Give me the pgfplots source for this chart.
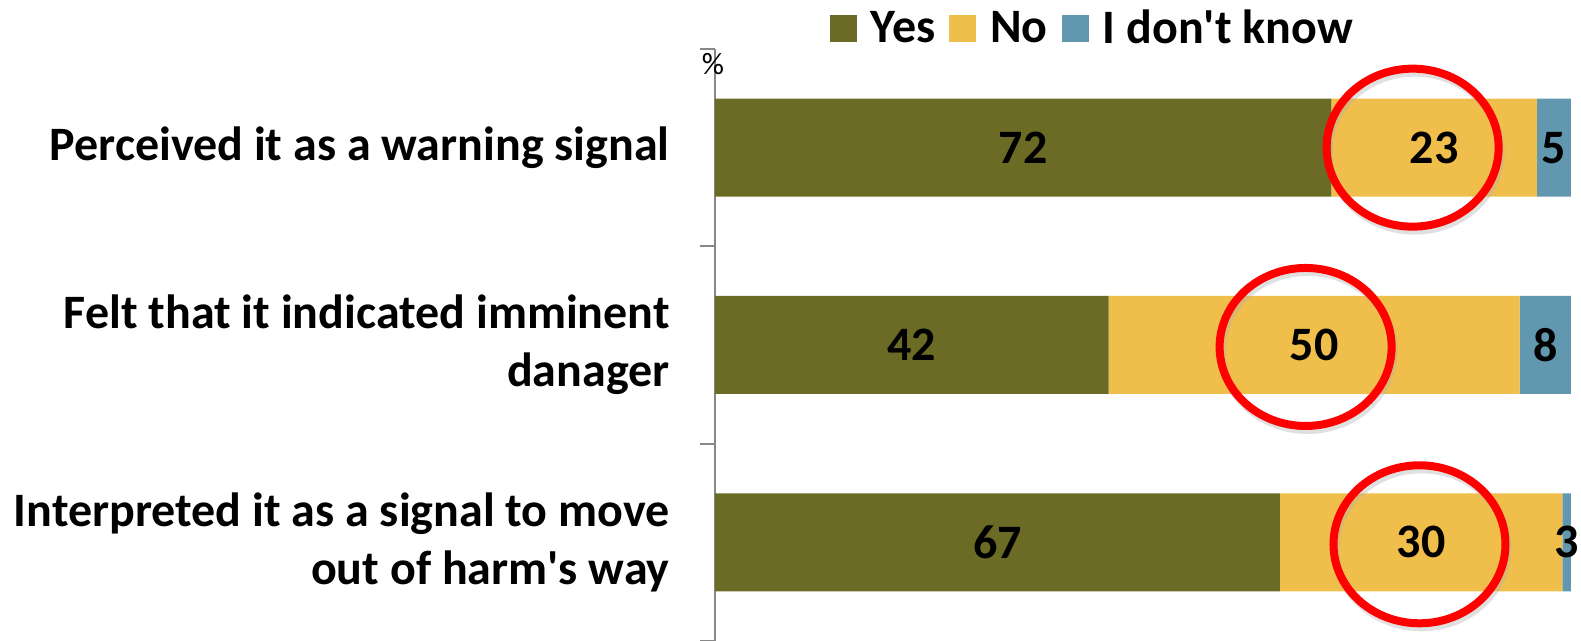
\documentclass[border=0pt]{standalone}
\usepackage{fontspec}
\setmainfont{Carlito}
\usepackage{pgfplots}
\usepackage{pgfplotstable}
\pgfplotsset{compat=1.18}

\definecolor{yescol}{HTML}{6B6B26}
\definecolor{nocol}{HTML}{F0BE4A}
\definecolor{idkcol}{HTML}{6198B0}
\definecolor{axisgray}{HTML}{888888}

% bar lengths as drawn, and the numbers printed on the bars
\pgfplotstableread{
y yes yeslab no nolab idk idklab
1 72  72     24 23    4   5
2 46  42     48 50    6   8
3 66  67     33 30    1   3
}\datatable

\newcommand{\bigfont}{\fontsize{24}{29}\selectfont\bfseries}

% labels of stacked bars already sit in the middle of each segment
\pgfplotsset{
    seg/.style={
        fill=#1, draw=none,
        point meta=explicit symbolic,
        nodes near coords,
        every node near coord/.append style={
            anchor=center, text=black, font=\bigfont, inner sep=0pt},
    },
}
\tikzset{
    ring/.style={red, line width=4pt},
    ringshadow/.style={black!30, line width=4pt, opacity=0.4},
}

\begin{document}
\begin{tikzpicture}
\begin{axis}[
    xbar stacked,
    scale only axis,
    width=428pt, height=296pt,
    xmin=0, xmax=100,
    ymin=0.5, ymax=3.5,
    y dir=reverse,
    bar width=49pt,
    axis x line=none,
    axis y line*=left,
    y axis line style={draw=axisgray, line width=1pt},
    ytick={1,2,3},
    yticklabels={Perceived it as a warning signal,
                 Felt that it indicated imminent\\danager,
                 Interpreted it as a signal to move\\out of harm\textquotesingle s way},
    yticklabel style={align=right, font=\bigfont, inner sep=0pt, xshift=-15pt},
    major tick length=7.5pt,
    tick align=outside,
    y tick style={draw=none},
    extra y ticks={0.5,1.5,2.5,3.5},
    extra y tick labels={},
    extra y tick style={y tick style={draw=axisgray, line width=1pt}},
    legend style={at={(0.442,1.035)}, anchor=center, draw=none, fill=none,
                  legend columns=3, font=\bigfont, inner sep=0pt,
                  /tikz/every even column/.append style={column sep=5pt}},
    legend image code/.code={\fill[#1] (0pt,-6.75pt) rectangle (13.5pt,6.75pt); \path (18.5pt,0pt);},
    clip=false,
]
\addplot[seg=yescol] table[x=yes, y=y, meta=yeslab]{\datatable};
\addplot[seg=nocol]  table[x=no,  y=y, meta=nolab]{\datatable};
\addplot[seg=idkcol] table[x=idk, y=y, meta=idklab]{\datatable};
\legend{Yes, No, I don\textquotesingle t know}

\coordinate (e1) at (axis cs:81.5,1);
\coordinate (e2) at (axis cs:69,2.01);
\coordinate (e3) at (axis cs:82.3,3.01);

\node[anchor=north, inner sep=0pt, font=\fontsize{15.5}{16}\selectfont]
    at ([xshift=-1pt, yshift=-2pt]axis cs:0,0.5) {\%};
\end{axis}
\foreach \e in {e1,e2,e3}{
    \draw[ringshadow] ([xshift=1pt, yshift=-2pt]\e) ellipse [x radius=43pt, y radius=39.5pt];
    \draw[ring] (\e) ellipse [x radius=43pt, y radius=39.5pt];
}
\pgfresetboundingbox
\path ([xshift=-357.5pt]current axis.south west)
    rectangle ([xshift=433pt, yshift=320.5pt]current axis.south west);
\end{tikzpicture}
\end{document}
